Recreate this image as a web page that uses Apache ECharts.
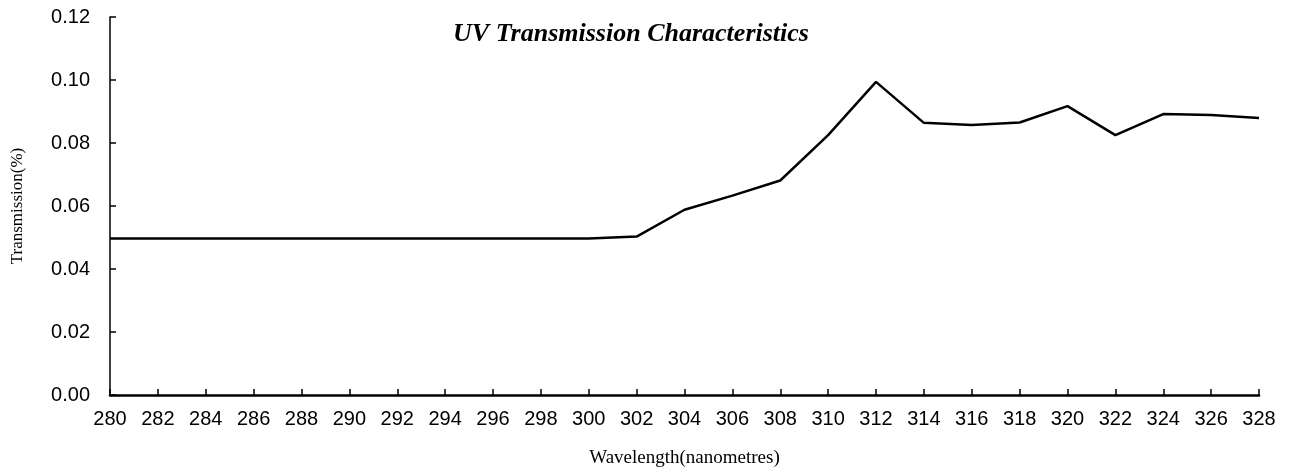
<!DOCTYPE html>
<html>
<head>
<meta charset="utf-8">
<script src="https://cdn.jsdelivr.net/npm/echarts@6/dist/echarts.min.js"></script>
<style>
  html, body { margin: 0; padding: 0; background: #fff; }
  #chart { width: 1290px; height: 468px; }
</style>
</head>
<body>
<div id="chart"></div>
<script>
// wavelength (nm) and transmission
var wavelengths = [280, 282, 284, 286, 288, 290, 292, 294, 296, 298, 300, 302, 304, 306, 308, 310, 312, 314, 316, 318, 320, 322, 324, 326, 328]
var transmission = [0.0497, 0.0497, 0.0497, 0.0497, 0.0497, 0.0497, 0.0497, 0.0497, 0.0497, 0.0497, 0.0497, 0.0503, 0.0588, 0.0633, 0.0681, 0.0825, 0.0994, 0.0864, 0.0857, 0.0865, 0.0917, 0.0825, 0.0892, 0.0889, 0.0879]

var chart = echarts.init(document.getElementById('chart'))

var points = wavelengths.map(function (w, i) {
  return [w, transmission[i]]
})

chart.setOption({
  animation: false,
  backgroundColor: '#fff',
  title: {
    text: 'UV Transmission Characteristics',
    left: 626,
    top: 16,
    textAlign: 'center',
    textStyle: {
      fontFamily: 'Liberation Serif',
      fontStyle: 'italic',
      fontWeight: 'bold',
      fontSize: 26,
      color: '#000'
    }
  },
  grid: {
    left: 110,
    right: 31,
    top: 17,
    bottom: 73,
    outerBoundsMode: 'none',
    containLabel: false
  },
  xAxis: {
    type: 'value',
    min: 280,
    max: 328,
    interval: 2,
    name: 'Wavelength(nanometres)',
    nameLocation: 'middle',
    nameGap: 54,
    nameTextStyle: {
      fontFamily: 'Liberation Serif',
      fontSize: 19,
      color: '#000'
    },
    splitLine: { show: false },
    axisLine: { lineStyle: { color: '#000', width: 2.5 } },
    axisTick: { inside: true, length: 6, lineStyle: { color: '#000', width: 1.5 } },
    axisLabel: {
      margin: 14,
      fontFamily: 'Liberation Sans',
      fontSize: 20,
      color: '#000'
    }
  },
  yAxis: {
    type: 'value',
    min: 0,
    max: 0.12,
    interval: 0.02,
    name: 'Transmission(%)',
    nameLocation: 'middle',
    nameGap: 84,
    nameTextStyle: {
      fontFamily: 'Liberation Serif',
      fontSize: 17,
      color: '#000'
    },
    splitLine: { show: false },
    axisLine: { show: true, lineStyle: { color: '#000', width: 1.5 } },
    axisTick: { show: true, inside: true, length: 6, lineStyle: { color: '#000', width: 1.5 } },
    axisLabel: {
      margin: 20,
      fontFamily: 'Liberation Sans',
      fontSize: 20,
      color: '#000',
      formatter: function (v) { return v.toFixed(2) }
    }
  },
  series: [{
    type: 'line',
    data: points,
    showSymbol: false,
    lineStyle: { color: '#000', width: 2.5 }
  }]
})
</script>
</body>
</html>
